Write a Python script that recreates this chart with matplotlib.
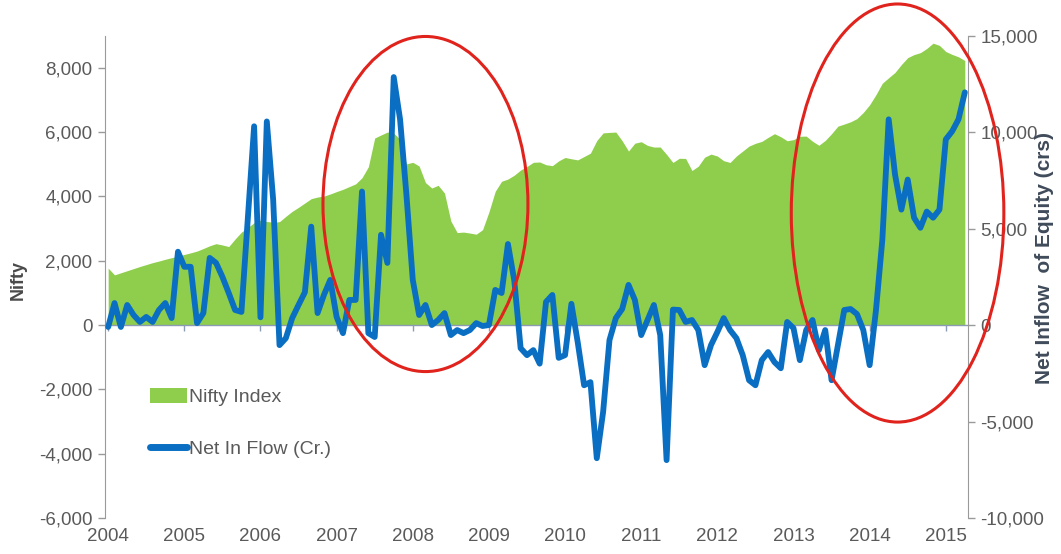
import matplotlib
matplotlib.use("Agg")
import matplotlib.pyplot as plt
from matplotlib.patches import Ellipse, Patch
from matplotlib.lines import Line2D

# ---- data (monthly, Jan 2004 .. Apr 2015) ----
nifty = [1770, 1560, 1625, 1690, 1755, 1820, 1880, 1940, 1990, 2045, 2095, 2145,
         2195, 2245, 2300, 2380, 2465, 2530, 2490, 2440, 2675, 2890, 3030, 3185,
         3255, 3220, 3195, 3215, 3380, 3535, 3660, 3795, 3930, 3980, 4010, 4075,
         4150, 4220, 4305, 4390, 4580, 4920, 5815, 5910, 6000, 5970, 5770, 5010,
         5060, 4945, 4430, 4260, 4345, 4105, 3235, 2875, 2890, 2860, 2825, 2965,
         3515, 4160, 4470, 4540, 4660, 4820, 4930, 5060, 5070, 4985, 4955, 5105,
         5210, 5170, 5135, 5240, 5345, 5735, 5975, 5990, 6000, 5730, 5410, 5655,
         5700, 5585, 5535, 5535, 5305, 5055, 5185, 5180, 4805, 4940, 5220, 5315,
         5255, 5110, 5055, 5255, 5410, 5565, 5650, 5710, 5835, 5950, 5855, 5730,
         5765, 5870, 5875, 5715, 5590, 5740, 5950, 6185, 6250, 6320, 6420, 6610,
         6850, 7165, 7520, 7690, 7855, 8100, 8315, 8410, 8470, 8600, 8765, 8695,
         8505, 8415, 8340, 8225]

net_inflow = [-100, 1140, -100, 1040, 520, 160, 420, 160, 780, 1140, 360, 3800,
              3020, 3020, 100, 620, 3480, 3220, 2500, 1660, 780, 680, 5460, 10300,
              400, 10550, 6500, -1040, -680, 360, 1040, 1700, 5100, 620, 1560, 2340,
              420, -420, 1300, 1300, 6920, -420, -620, 4680, 3220, 12850, 10660, 6760,
              2340, 520, 1040, 0, 260, 620, -520, -260, -420, -260, 100, -50,
              0, 1820, 1660, 4200, 2300, -1200, -1560, -1300, -2000, 1200, 1560, -1700,
              -1560, 1100, -900, -3120, -2960, -6900, -4500, -780, 360, 830, 2080, 1300,
              -520, 260, 1040, -520, -7000, 800, 780, 160, 260, -260, -2080, -1040,
              -360, 360, -260, -680, -1560, -2860, -3120, -1820, -1400, -1920, -2240, 160,
              -160, -1820, -260, 260, -1300, -260, -2860, -1040, 780, 830, 570, -260,
              -2080, 780, 4420, 10660, 7800, 5980, 7540, 5560, 5040, 5880, 5560, 5980,
              9620, 10040, 10660, 12060]

year_labels = ["2004", "2005", "2006", "2007", "2008", "2009", "2010",
               "2011", "2012", "2013", "2014", "2015"]
left_ticks = [-6000, -4000, -2000, 0, 2000, 4000, 6000, 8000]
right_ticks = [-10000, -5000, 0, 5000, 10000, 15000]

months = list(range(len(nifty)))
year_pos = [12 * i for i in range(len(year_labels))]

GREEN = "#8fce4c"
BLUE = "#0a6fc2"
GRAY = "#5a5a5a"
SPINE = "#9a9a9a"
RED = "#e0231c"

plt.rcParams["font.family"] = ["Liberation Sans", "DejaVu Sans"]

fig = plt.figure(figsize=(10.61, 5.54), dpi=100)
ax = fig.add_axes([105 / 1061, 1 - 518 / 554, (968 - 105) / 1061, (518 - 35.6) / 554])
ax2 = ax.twinx()

ax.fill_between(months, 0, nifty, color=GREEN, linewidth=0, zorder=1)
ax2.plot(months, net_inflow, color=BLUE, linewidth=4.2, solid_joinstyle="round",
         solid_capstyle="round", zorder=3)

ax.set_xlim(-0.5, len(nifty) - 0.5)
ax.set_ylim(-6000, 9000)
ax2.set_ylim(-10000, 15000)

# zero line with small year ticks
ax.axhline(0, color="#8a9bb3", linewidth=1.0, zorder=2)
sec = ax.secondary_xaxis(6000 / 15000)
sec.set_xticks(year_pos)
sec.tick_params(axis="x", length=4, width=1, color="#8a9bb3", labelbottom=False, direction="out")
sec.spines["bottom"].set_visible(False)

ax.set_xticks(year_pos)
ax.set_xticklabels(year_labels)
ax.tick_params(axis="x", length=0, pad=7, labelsize=13.5, labelcolor=GRAY)

ax.set_yticks(left_ticks)
ax.set_yticklabels([f"{v:,}" for v in left_ticks])
ax.tick_params(axis="y", length=5, width=1, color=SPINE, labelsize=13.5, labelcolor=GRAY, pad=4)
ax2.set_yticks(right_ticks)
ax2.set_yticklabels([f"{v:,}" for v in right_ticks])
ax2.tick_params(axis="y", length=5, width=1, color=SPINE, labelsize=13.5, labelcolor=GRAY, pad=4)

for a in (ax, ax2):
    a.spines["top"].set_visible(False)
    a.spines["bottom"].set_visible(False)
ax.spines["left"].set_color(SPINE)
ax2.spines["right"].set_color(SPINE)
ax2.spines["left"].set_visible(False)
ax.spines["right"].set_visible(False)

fig.text(18 / 1061, 1 - 280 / 554, "Nifty", rotation=90, ha="center", va="center",
         fontsize=13, fontweight="bold", color="#4a4a4a")
fig.text(1045 / 1061, 1 - 258 / 554, "Net Inflow  of Equity (crs)", rotation=90,
         ha="center", va="center", fontsize=15, fontweight="bold", color="#3f4b5a")

handles = [Patch(facecolor=GREEN, edgecolor="none"),
           Line2D([0], [0], color=BLUE, linewidth=5, solid_capstyle="round")]
leg = fig.legend(handles, ["Nifty Index", "Net In Flow (Cr.)"],
                 loc="upper left", bbox_to_anchor=(150 / 1061, 1 - 388 / 554),
                 bbox_transform=fig.transFigure, frameon=False, fontsize=14,
                 handlelength=1.9, handleheight=0.8, handletextpad=0.1,
                 labelspacing=1.75, borderpad=0, borderaxespad=0)
for t in leg.get_texts():
    t.set_color(GRAY)

# highlight ellipses (left-axis data coordinates)
e1 = Ellipse((50, 3763), 32.3, 10420, fill=False, edgecolor=RED, linewidth=2.2,
             transform=ax.transData, clip_on=False, zorder=10)
e2 = Ellipse((124.4, 3483), 33.5, 13000, fill=False, edgecolor=RED, linewidth=2.2,
             transform=ax.transData, clip_on=False, zorder=10)
ax2.add_patch(e1)
ax2.add_patch(e2)

fig.savefig("out.png", dpi=100)
